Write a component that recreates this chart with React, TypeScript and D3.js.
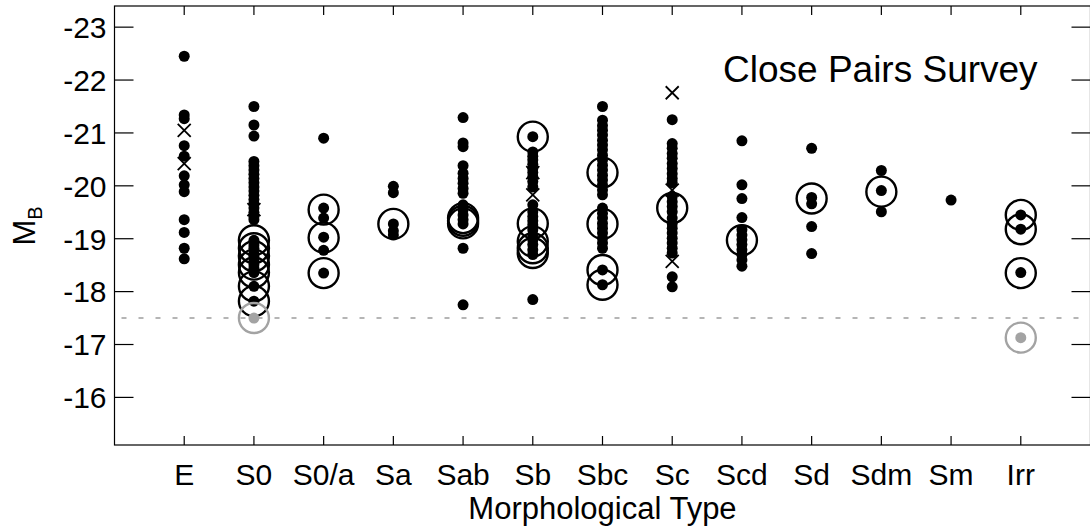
import React from "react";
import * as d3 from "d3";

const categories = ["E", "S0", "S0/a", "Sa", "Sab", "Sb", "Sbc", "Sc", "Scd", "Sd", "Sdm", "Sm", "Irr"];
const yTicks = [-23, -22, -21, -20, -19, -18, -17, -16];
const cutoff = -17.5;

// filled black dots, per category
const dots: number[][] = [
  [-22.45, -21.34, -21.27, -20.76, -20.56, -20.19, -20.02, -19.89, -19.36, -19.12, -18.82, -18.62],
  [-21.5, -21.15, -20.94, -20.46, -20.38, -20.3, -20.22, -20.14, -20.06, -19.98, -19.9, -19.82, -19.74, -19.66, -19.58, -19.5, -19.42, -19.36,
    -18.97, -18.88, -18.82, -18.72, -18.67, -18.58, -18.51, -18.44, -18.36, -18.1, -17.82],
  [-20.9, -19.58, -19.39, -19.03, -18.78, -18.35],
  [-19.99, -19.87, -19.28, -19.15, -19.07],
  [-21.29, -20.81, -20.74, -20.38, -20.24, -20.14, -20.05, -19.95, -19.86, -19.64, -19.55, -19.45, -19.36, -19.28, -18.82, -17.75],
  [-20.93, -20.64, -20.56, -20.49, -20.41, -20.33, -20.25, -20.17, -20.08, -19.98, -19.64, -19.51, -19.42, -19.34, -19.26, -19.17, -19.07,
    -18.98, -18.89, -18.79, -18.7, -17.85],
  [-21.5, -21.24, -21.14, -21.05, -20.96, -20.86, -20.77, -20.68, -20.58, -20.49, -20.39, -20.3, -20.2, -20.11, -20.02, -19.92, -19.83,
    -19.58, -19.48, -19.39, -19.29, -19.2, -19.11, -19.01, -18.92, -18.82, -18.41, -18.13],
  [-21.25, -20.8, -20.71, -20.61, -20.52, -20.42, -20.33, -20.23, -20.14, -20.06, -19.8, -19.7, -19.61, -19.51, -19.39, -19.29, -19.2,
    -19.11, -19.01, -18.92, -18.82, -18.73, -18.28, -18.09],
  [-20.85, -20.02, -19.76, -19.4, -19.17, -19.07, -18.98, -18.89, -18.79, -18.7, -18.6, -18.48],
  [-20.71, -19.78, -19.66, -19.23, -18.72],
  [-20.29, -19.91, -19.51],
  [-19.73],
  [-19.45, -19.18, -18.36],
];

// open circles (pairs), per category
const circles: number[][] = [
  [],
  [-18.97, -18.82, -18.67, -18.51, -18.36, -18.1, -17.82],
  [-19.55, -19.02, -18.35],
  [-19.28],
  [-19.39, -19.34, -19.29],
  [-20.93, -19.29, -18.95, -18.82, -18.73],
  [-20.25, -19.28, -18.41, -18.13],
  [-19.58],
  [-18.97],
  [-19.76],
  [-19.89],
  [],
  [-19.45, -19.18, -18.35],
];

// crosses, per category
const crosses: number[][] = [
  [-21.05, -20.42],
  [-19.55],
  [],
  [],
  [],
  [-20.25, -19.83],
  [],
  [-21.76, -19.92, -18.57],
  [],
  [],
  [],
  [],
  [],
];

// faint (below cutoff) dots with circles, per category
const faint: number[][] = [[], [-17.5], [], [], [], [], [], [], [], [], [], [], [-17.13]];

const W = 1090;
const H = 532;
const left = 114.5;
const right = 1090.5;
const top = 6;
const bottom = 445;
const FONT = "'Liberation Sans', Arial, Helvetica, sans-serif";
const GRAY = "#a3a3a3";

export default function App() {
  const x = d3.scaleLinear().domain([-1, 13]).range([left, right]);
  const y = d3.scaleLinear().domain([-15.1, -23.4]).range([bottom, top]);
  const dotR = 5.5;
  const circR = 15;
  const cs = 6.5;

  return (
    <svg width={W} height={H} style={{ position: "absolute", left: 0, top: 0, background: "#fff" }} fontFamily={FONT}>
      <rect x={0} y={0} width={W} height={H} fill="#fff" />
      {/* cutoff dashed line */}
      <line x1={left + 7} x2={right} y1={y(cutoff)} y2={y(cutoff)} stroke="#b5b5b5" strokeWidth={2} strokeDasharray="5 12" />

      {/* frame */}
      <rect x={left} y={top} width={right - left} height={bottom - top} fill="none" stroke="#000" strokeWidth={1.2} />

      {/* y ticks both sides */}
      {yTicks.map((t) => (
        <g key={"yt" + t}>
          <line x1={left} x2={left + 19} y1={y(t)} y2={y(t)} stroke="#000" strokeWidth={1.2} />
          <line x1={right - 19} x2={right} y1={y(t)} y2={y(t)} stroke="#000" strokeWidth={1.2} />
          <text x={left - 8} y={y(t)} dy="0.36em" textAnchor="end" fontSize={30} fill="#000">
            {t}
          </text>
        </g>
      ))}

      {/* x ticks top and bottom */}
      {categories.map((c, i) => (
        <g key={"xt" + c}>
          <line x1={x(i)} x2={x(i)} y1={top} y2={top + 9} stroke="#000" strokeWidth={1.2} />
          <line x1={x(i)} x2={x(i)} y1={bottom} y2={bottom - 9} stroke="#000" strokeWidth={1.2} />
          <text x={x(i)} y={485} textAnchor="middle" fontSize={30} fill="#000">
            {c}
          </text>
        </g>
      ))}

      {/* axis titles */}
      <text x={(left + right) / 2} y={519} textAnchor="middle" fontSize={31} fill="#000">
        Morphological Type
      </text>
      <text transform="translate(35,226) rotate(-90)" textAnchor="middle" fontSize={31} fill="#000">
        M
        <tspan fontSize={20} dy={7}>
          B
        </tspan>
      </text>

      <text x={723} y={82} fontSize={37} fill="#000">
        Close Pairs Survey
      </text>

      {/* data */}
      {dots.map((arr, i) =>
        arr.map((v, j) => <circle key={`d${i}-${j}`} cx={x(i)} cy={y(v)} r={dotR} fill="#000" />)
      )}
      {crosses.map((arr, i) =>
        arr.map((v, j) => (
          <path
            key={`x${i}-${j}`}
            d={`M${x(i) - cs},${y(v) - cs}L${x(i) + cs},${y(v) + cs}M${x(i) - cs},${y(v) + cs}L${x(i) + cs},${y(v) - cs}`}
            stroke="#000"
            strokeWidth={1.8}
            fill="none"
          />
        ))
      )}
      {circles.map((arr, i) =>
        arr.map((v, j) => (
          <circle key={`c${i}-${j}`} cx={x(i)} cy={y(v)} r={circR} fill="none" stroke="#000" strokeWidth={2.4} />
        ))
      )}
      {faint.map((arr, i) =>
        arr.map((v, j) => (
          <g key={`f${i}-${j}`}>
            <circle cx={x(i)} cy={y(v)} r={dotR} fill={GRAY} />
            <circle cx={x(i)} cy={y(v)} r={circR} fill="none" stroke={GRAY} strokeWidth={2.4} />
          </g>
        ))
      )}
    </svg>
  );
}
